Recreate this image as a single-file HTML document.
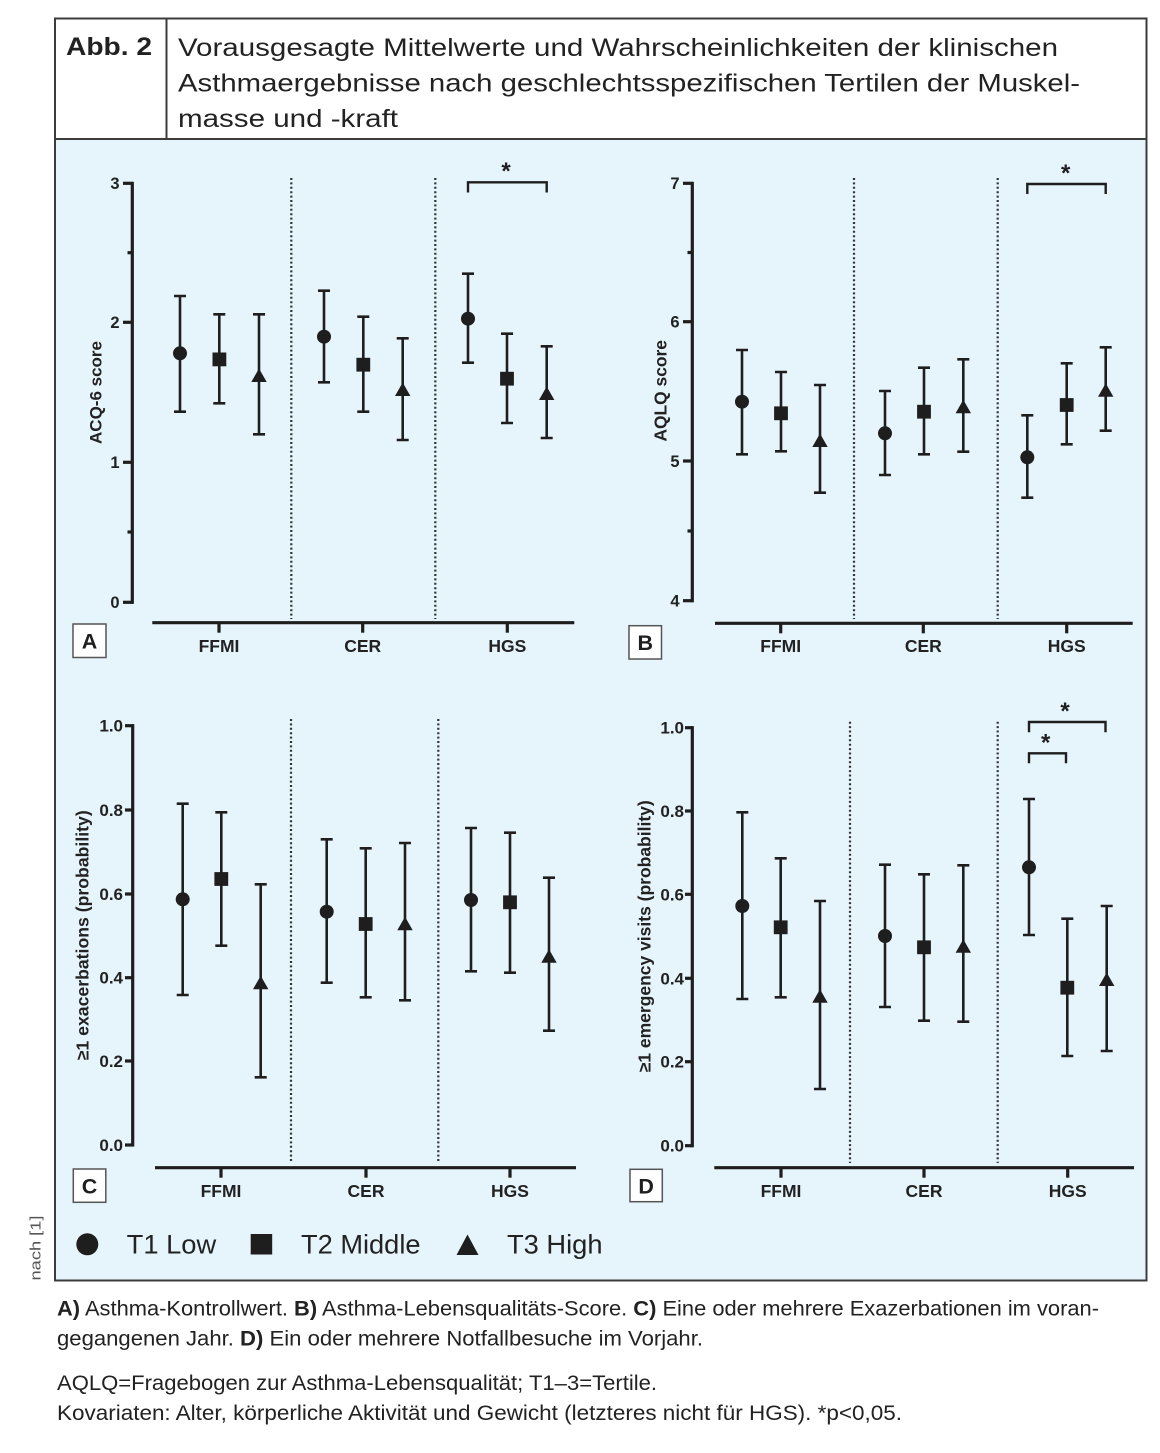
<!DOCTYPE html>
<html>
<head>
<meta charset="utf-8">
<style>
  html,body{margin:0;padding:0;background:#fff;}
  svg{display:block;}
  text{font-family:"Liberation Sans",Arial,sans-serif;}
</style>
</head>
<body>
<svg width="1160" height="1453" viewBox="0 0 1160 1453" xmlns="http://www.w3.org/2000/svg">
  <!-- background -->
  <rect x="0" y="0" width="1160" height="1453" fill="#ffffff"/>
  <!-- blue plot area -->
  <rect x="55" y="139" width="1091.5" height="1141.5" fill="#e6f4fc"/>
  <!-- frame -->
  <rect x="55" y="18.5" width="1091.5" height="1262" fill="none" stroke="#3c3c3c" stroke-width="2"/>
  <line x1="55" y1="139" x2="1146.5" y2="139" stroke="#3c3c3c" stroke-width="2"/>
  <line x1="166.5" y1="18.5" x2="166.5" y2="139" stroke="#3c3c3c" stroke-width="2"/>

  <!-- header text -->
  <text x="66" y="55" font-size="25" font-weight="bold" fill="#222" textLength="86" lengthAdjust="spacingAndGlyphs">Abb. 2</text>
  <text x="178" y="56" font-size="25" fill="#222" textLength="880" lengthAdjust="spacingAndGlyphs">Vorausgesagte Mittelwerte und Wahrscheinlichkeiten der klinischen</text>
  <text x="178" y="91.5" font-size="25" fill="#222" textLength="902" lengthAdjust="spacingAndGlyphs">Asthmaergebnisse nach geschlechtsspezifischen Tertilen der Muskel-</text>
  <text x="178" y="127" font-size="25" fill="#222" textLength="220" lengthAdjust="spacingAndGlyphs">masse und -kraft</text>

  <!-- side credit -->
  <text transform="translate(40.5,1248) rotate(-90)" text-anchor="middle" font-size="15" fill="#555" textLength="65" lengthAdjust="spacingAndGlyphs">nach [1]</text>

  <g fill="#1e1e1e" stroke="#1e1e1e">
  <!-- ============ PANEL A ============ -->
  <g stroke-width="3.2" fill="none">
    <line x1="132.3" y1="182" x2="132.3" y2="603.8"/>
    <line x1="123" y1="183.3" x2="133.5" y2="183.3"/>
    <line x1="123" y1="322.3" x2="133.5" y2="322.3"/>
    <line x1="123" y1="462.3" x2="133.5" y2="462.3"/>
    <line x1="123" y1="602.3" x2="133.5" y2="602.3"/>
    <line x1="127.5" y1="252.7" x2="133.5" y2="252.7"/>
    <line x1="127.5" y1="532" x2="133.5" y2="532"/>
    <line x1="152.3" y1="622.7" x2="574.3" y2="622.7"/>
    <line x1="219" y1="622.7" x2="219" y2="632.7"/>
    <line x1="362.7" y1="622.7" x2="362.7" y2="632.7"/>
    <line x1="507.3" y1="622.7" x2="507.3" y2="632.7"/>
  </g>
  <g stroke-width="2.2" stroke-dasharray="2 2.4" fill="none" stroke="#333">
    <line x1="291.3" y1="178" x2="291.3" y2="619"/>
    <line x1="435.3" y1="178" x2="435.3" y2="619"/>
  </g>
  <g stroke="none" font-size="16.5" font-weight="bold" text-anchor="end" fill="#222">
    <text x="119.5" y="189">3</text>
    <text x="119.5" y="328">2</text>
    <text x="119.5" y="468">1</text>
    <text x="119.5" y="608">0</text>
  </g>
  <g stroke="none" font-size="17.5" font-weight="bold" text-anchor="middle" fill="#222">
    <text x="219" y="652">FFMI</text>
    <text x="362.7" y="652">CER</text>
    <text x="507.3" y="652">HGS</text>
  </g>
  <text stroke="none" fill="#222" transform="translate(101.5,392.5) rotate(-90)" text-anchor="middle" font-size="17" font-weight="bold">ACQ-6 score</text>
  <!-- bracket -->
  <polyline fill="none" stroke-width="2.4" points="468,192.5 468,182.3 546.7,182.3 546.7,192.5"/>
  <text stroke="none" x="506" y="179" font-size="24" font-weight="bold" text-anchor="middle">*</text>
  <!-- A data -->
  <g stroke-width="2.6" fill="none">
    <path d="M180 296V411.7M174 296H186M174 411.7H186"/>
    <path d="M219.3 314.3V403.3M213.3 314.3H225.3M213.3 403.3H225.3"/>
    <path d="M259 314.3V434.3M253 314.3H265M253 434.3H265"/>
    <path d="M324 290.7V382.3M318 290.7H330M318 382.3H330"/>
    <path d="M363.3 316.7V411.7M357.3 316.7H369.3M357.3 411.7H369.3"/>
    <path d="M402.7 338.3V440M396.7 338.3H408.7M396.7 440H408.7"/>
    <path d="M468 273.7V362.7M462 273.7H474M462 362.7H474"/>
    <path d="M507 333.7V423M501 333.7H513M501 423H513"/>
    <path d="M546.7 346.3V438M540.7 346.3H552.7M540.7 438H552.7"/>
  </g>
  <g stroke="none">
    <circle cx="180" cy="353.3" r="7"/>
    <rect x="212.5" y="352.5" width="13.8" height="13.8"/>
    <polygon points="259,368.5 251.3,382 266.7,382"/>
    <circle cx="324" cy="336.7" r="7"/>
    <rect x="356.4" y="357.8" width="13.8" height="13.8"/>
    <polygon points="402.7,382.5 395,396 410.4,396"/>
    <circle cx="468" cy="318.7" r="7"/>
    <rect x="500.1" y="371.8" width="13.8" height="13.8"/>
    <polygon points="546.7,386.5 539,400 554.4,400"/>
  </g>

  <!-- ============ PANEL B ============ -->
  <g stroke-width="3.2" fill="none">
    <line x1="692.3" y1="182" x2="692.3" y2="602.2"/>
    <line x1="683" y1="183.3" x2="693.5" y2="183.3"/>
    <line x1="683" y1="321.7" x2="693.5" y2="321.7"/>
    <line x1="683" y1="461" x2="693.5" y2="461"/>
    <line x1="683" y1="600.7" x2="693.5" y2="600.7"/>
    <line x1="687.5" y1="252.5" x2="693.5" y2="252.5"/>
    <line x1="687.5" y1="531" x2="693.5" y2="531"/>
    <line x1="715" y1="623.3" x2="1132.7" y2="623.3"/>
    <line x1="780.7" y1="623.3" x2="780.7" y2="633.3"/>
    <line x1="923.3" y1="623.3" x2="923.3" y2="633.3"/>
    <line x1="1066.7" y1="623.3" x2="1066.7" y2="633.3"/>
  </g>
  <g stroke-width="2.2" stroke-dasharray="2 2.4" fill="none" stroke="#333">
    <line x1="854" y1="178" x2="854" y2="619"/>
    <line x1="997.7" y1="178" x2="997.7" y2="619"/>
  </g>
  <g stroke="none" font-size="16.5" font-weight="bold" text-anchor="end" fill="#222">
    <text x="679.5" y="189">7</text>
    <text x="679.5" y="327.5">6</text>
    <text x="679.5" y="467">5</text>
    <text x="679.5" y="606.5">4</text>
  </g>
  <g stroke="none" font-size="17.5" font-weight="bold" text-anchor="middle" fill="#222">
    <text x="780.7" y="652">FFMI</text>
    <text x="923.3" y="652">CER</text>
    <text x="1066.7" y="652">HGS</text>
  </g>
  <text stroke="none" fill="#222" transform="translate(666.5,390.8) rotate(-90)" text-anchor="middle" font-size="17.4" font-weight="bold">AQLQ score</text>
  <polyline fill="none" stroke-width="2.4" points="1027.3,194 1027.3,184 1105.7,184 1105.7,194"/>
  <text stroke="none" x="1065.7" y="181" font-size="24" font-weight="bold" text-anchor="middle">*</text>
  <g stroke-width="2.6" fill="none">
    <path d="M742 350V454.3M736 350H748M736 454.3H748"/>
    <path d="M781 372V451.3M775 372H787M775 451.3H787"/>
    <path d="M820 385V492.7M814 385H826M814 492.7H826"/>
    <path d="M885 391V475M879 391H891M879 475H891"/>
    <path d="M924 367.7V454.3M918 367.7H930M918 454.3H930"/>
    <path d="M963.3 359.3V451.7M957.3 359.3H969.3M957.3 451.7H969.3"/>
    <path d="M1027.3 415.3V497.7M1021.3 415.3H1033.3M1021.3 497.7H1033.3"/>
    <path d="M1066.7 363.3V444.3M1060.7 363.3H1072.7M1060.7 444.3H1072.7"/>
    <path d="M1105.7 347.3V430.7M1099.7 347.3H1111.7M1099.7 430.7H1111.7"/>
  </g>
  <g stroke="none">
    <circle cx="742" cy="401.7" r="7"/>
    <rect x="774.1" y="406.4" width="13.8" height="13.8"/>
    <polygon points="820,433.5 812.3,447 827.7,447"/>
    <circle cx="885" cy="433.3" r="7"/>
    <rect x="917.1" y="404.8" width="13.8" height="13.8"/>
    <polygon points="963.3,399.8 955.6,413.3 971,413.3"/>
    <circle cx="1027.3" cy="457.3" r="7"/>
    <rect x="1059.8" y="398.1" width="13.8" height="13.8"/>
    <polygon points="1105.7,383.2 1098,396.7 1113.4,396.7"/>
  </g>

  <!-- ============ PANEL C ============ -->
  <g stroke-width="3.2" fill="none">
    <line x1="132.7" y1="724.3" x2="132.7" y2="1146.5"/>
    <line x1="125" y1="725.7" x2="134" y2="725.7"/>
    <line x1="125" y1="810" x2="134" y2="810"/>
    <line x1="125" y1="894" x2="134" y2="894"/>
    <line x1="125" y1="977.7" x2="134" y2="977.7"/>
    <line x1="125" y1="1061" x2="134" y2="1061"/>
    <line x1="125" y1="1145" x2="134" y2="1145"/>
    <line x1="155" y1="1167.7" x2="576" y2="1167.7"/>
    <line x1="221" y1="1167.7" x2="221" y2="1177.7"/>
    <line x1="366" y1="1167.7" x2="366" y2="1177.7"/>
    <line x1="510" y1="1167.7" x2="510" y2="1177.7"/>
  </g>
  <g stroke-width="2.2" stroke-dasharray="2 2.4" fill="none" stroke="#333">
    <line x1="291" y1="719" x2="291" y2="1163"/>
    <line x1="438.3" y1="719" x2="438.3" y2="1163"/>
  </g>
  <g stroke="none" font-size="17" font-weight="bold" text-anchor="end" fill="#222">
    <text x="123" y="731.7">1.0</text>
    <text x="123" y="816">0.8</text>
    <text x="123" y="900">0.6</text>
    <text x="123" y="983.7">0.4</text>
    <text x="123" y="1067">0.2</text>
    <text x="123" y="1151">0.0</text>
  </g>
  <g stroke="none" font-size="17.5" font-weight="bold" text-anchor="middle" fill="#222">
    <text x="221" y="1197">FFMI</text>
    <text x="366" y="1197">CER</text>
    <text x="510" y="1197">HGS</text>
  </g>
  <text stroke="none" fill="#222" transform="translate(88.5,935.3) rotate(-90)" text-anchor="middle" font-size="17.5" font-weight="bold" textLength="250" lengthAdjust="spacingAndGlyphs">≥1 exacerbations (probability)</text>
  <g stroke-width="2.6" fill="none">
    <path d="M182.7 803.7V995M176.7 803.7H188.7M176.7 995H188.7"/>
    <path d="M221.3 812.3V945.7M215.3 812.3H227.3M215.3 945.7H227.3"/>
    <path d="M260.7 884.3V1077.3M254.7 884.3H266.7M254.7 1077.3H266.7"/>
    <path d="M326.7 839.3V982.7M320.7 839.3H332.7M320.7 982.7H332.7"/>
    <path d="M365.7 848.3V997.3M359.7 848.3H371.7M359.7 997.3H371.7"/>
    <path d="M405 843V1000.3M399 843H411M399 1000.3H411"/>
    <path d="M471 828V971.3M465 828H477M465 971.3H477"/>
    <path d="M510 832.7V972.7M504 832.7H516M504 972.7H516"/>
    <path d="M549 877.7V1030.7M543 877.7H555M543 1030.7H555"/>
  </g>
  <g stroke="none">
    <circle cx="182.7" cy="899.3" r="7"/>
    <rect x="214.4" y="872.1" width="13.8" height="13.8"/>
    <polygon points="260.7,975.8 253,989.3 268.4,989.3"/>
    <circle cx="326.7" cy="911.7" r="7"/>
    <rect x="358.8" y="917.1" width="13.8" height="13.8"/>
    <polygon points="405,916.8 397.3,930.3 412.7,930.3"/>
    <circle cx="471" cy="900" r="7"/>
    <rect x="503.1" y="895.4" width="13.8" height="13.8"/>
    <polygon points="549,949.2 541.3,962.7 556.7,962.7"/>
  </g>

  <!-- ============ PANEL D ============ -->
  <g stroke-width="3.2" fill="none">
    <line x1="692.3" y1="726.3" x2="692.3" y2="1147.2"/>
    <line x1="685" y1="727.7" x2="693.5" y2="727.7"/>
    <line x1="685" y1="811" x2="693.5" y2="811"/>
    <line x1="685" y1="894.3" x2="693.5" y2="894.3"/>
    <line x1="685" y1="978.3" x2="693.5" y2="978.3"/>
    <line x1="685" y1="1061.7" x2="693.5" y2="1061.7"/>
    <line x1="685" y1="1145.7" x2="693.5" y2="1145.7"/>
    <line x1="714.3" y1="1167.7" x2="1134" y2="1167.7"/>
    <line x1="781" y1="1167.7" x2="781" y2="1177.7"/>
    <line x1="924" y1="1167.7" x2="924" y2="1177.7"/>
    <line x1="1067.7" y1="1167.7" x2="1067.7" y2="1177.7"/>
  </g>
  <g stroke-width="2.2" stroke-dasharray="2 2.4" fill="none" stroke="#333">
    <line x1="850" y1="721.7" x2="850" y2="1163"/>
    <line x1="997.7" y1="721.7" x2="997.7" y2="1163"/>
  </g>
  <g stroke="none" font-size="17" font-weight="bold" text-anchor="end" fill="#222">
    <text x="684" y="733.7">1.0</text>
    <text x="684" y="817">0.8</text>
    <text x="684" y="900.3">0.6</text>
    <text x="684" y="984.3">0.4</text>
    <text x="684" y="1067.7">0.2</text>
    <text x="684" y="1151.7">0.0</text>
  </g>
  <g stroke="none" font-size="17.5" font-weight="bold" text-anchor="middle" fill="#222">
    <text x="781" y="1197">FFMI</text>
    <text x="924" y="1197">CER</text>
    <text x="1067.7" y="1197">HGS</text>
  </g>
  <text stroke="none" fill="#222" transform="translate(650.5,936.3) rotate(-90)" text-anchor="middle" font-size="17.5" font-weight="bold" textLength="272" lengthAdjust="spacingAndGlyphs">≥1 emergency visits (probability)</text>
  <polyline fill="none" stroke-width="2.4" points="1029,732.3 1029,722 1105.5,722 1105.5,732.3"/>
  <text stroke="none" x="1065" y="719" font-size="24" font-weight="bold" text-anchor="middle">*</text>
  <polyline fill="none" stroke-width="2.4" points="1029,763.3 1029,753.3 1066,753.3 1066,763.3"/>
  <text stroke="none" x="1045.7" y="750.5" font-size="24" font-weight="bold" text-anchor="middle">*</text>
  <g stroke-width="2.6" fill="none">
    <path d="M742.3 812.3V999M736.3 812.3H748.3M736.3 999H748.3"/>
    <path d="M780.7 858.3V997.3M774.7 858.3H786.7M774.7 997.3H786.7"/>
    <path d="M820 901V1089M814 901H826M814 1089H826"/>
    <path d="M885 864.7V1007M879 864.7H891M879 1007H891"/>
    <path d="M924 874.3V1020.7M918 874.3H930M918 1020.7H930"/>
    <path d="M963.3 865.3V1021.7M957.3 865.3H969.3M957.3 1021.7H969.3"/>
    <path d="M1029 799V935M1023 799H1035M1023 935H1035"/>
    <path d="M1067.3 918.7V1056M1061.3 918.7H1073.3M1061.3 1056H1073.3"/>
    <path d="M1106.7 906V1051M1100.7 906H1112.7M1100.7 1051H1112.7"/>
  </g>
  <g stroke="none">
    <circle cx="742.3" cy="906" r="7"/>
    <rect x="773.8" y="920.4" width="13.8" height="13.8"/>
    <polygon points="820,989.2 812.3,1002.7 827.7,1002.7"/>
    <circle cx="885" cy="936" r="7"/>
    <rect x="917.1" y="940.4" width="13.8" height="13.8"/>
    <polygon points="963.3,939.2 955.6,952.7 971,952.7"/>
    <circle cx="1029" cy="867.3" r="7"/>
    <rect x="1060.4" y="980.8" width="13.8" height="13.8"/>
    <polygon points="1106.7,972.5 1099,986 1114.4,986"/>
  </g>
  </g>

  <!-- panel label boxes -->
  <g fill="#ffffff" stroke="#555" stroke-width="1.5">
    <rect x="73" y="624" width="33" height="33.5"/>
    <rect x="629" y="625.7" width="32.5" height="33.3"/>
    <rect x="73.3" y="1169" width="32.5" height="33.3"/>
    <rect x="630" y="1169.3" width="32.3" height="32.4"/>
  </g>
  <g font-size="21.5" font-weight="bold" text-anchor="middle" fill="#1e1e1e">
    <text x="89.5" y="648.5">A</text>
    <text x="645.3" y="650">B</text>
    <text x="89.5" y="1193.3">C</text>
    <text x="646.2" y="1193.3">D</text>
  </g>

  <!-- legend -->
  <g fill="#1e1e1e">
    <circle cx="87.3" cy="1244.3" r="11"/>
    <rect x="250.7" y="1234" width="21.5" height="20.5"/>
    <polygon points="467.5,1234.5 456.5,1255 478.5,1255"/>
  </g>
  <g font-size="27" fill="#222">
    <text x="126.7" y="1253.5" textLength="89.5" lengthAdjust="spacingAndGlyphs">T1 Low</text>
    <text x="301" y="1253.5" textLength="119.5" lengthAdjust="spacingAndGlyphs">T2 Middle</text>
    <text x="507" y="1253.5" textLength="95.5" lengthAdjust="spacingAndGlyphs">T3 High</text>
  </g>

  <!-- footer -->
  <g font-size="21" fill="#222">
    <text x="57" y="1315.5" textLength="1042" lengthAdjust="spacingAndGlyphs"><tspan font-weight="bold">A)</tspan> Asthma-Kontrollwert. <tspan font-weight="bold">B)</tspan> Asthma-Lebensqualitäts-Score. <tspan font-weight="bold">C)</tspan> Eine oder mehrere Exazerbationen im voran-</text>
    <text x="57" y="1345.5" textLength="646" lengthAdjust="spacingAndGlyphs">gegangenen Jahr. <tspan font-weight="bold">D)</tspan> Ein oder mehrere Notfallbesuche im Vorjahr.</text>
    <text x="57" y="1390" textLength="600" lengthAdjust="spacingAndGlyphs">AQLQ=Fragebogen zur Asthma-Lebensqualität; T1–3=Tertile.</text>
    <text x="57" y="1420" textLength="845" lengthAdjust="spacingAndGlyphs">Kovariaten: Alter, körperliche Aktivität und Gewicht (letzteres nicht für HGS). *p&lt;0,05.</text>
  </g>
</svg>
</body>
</html>
